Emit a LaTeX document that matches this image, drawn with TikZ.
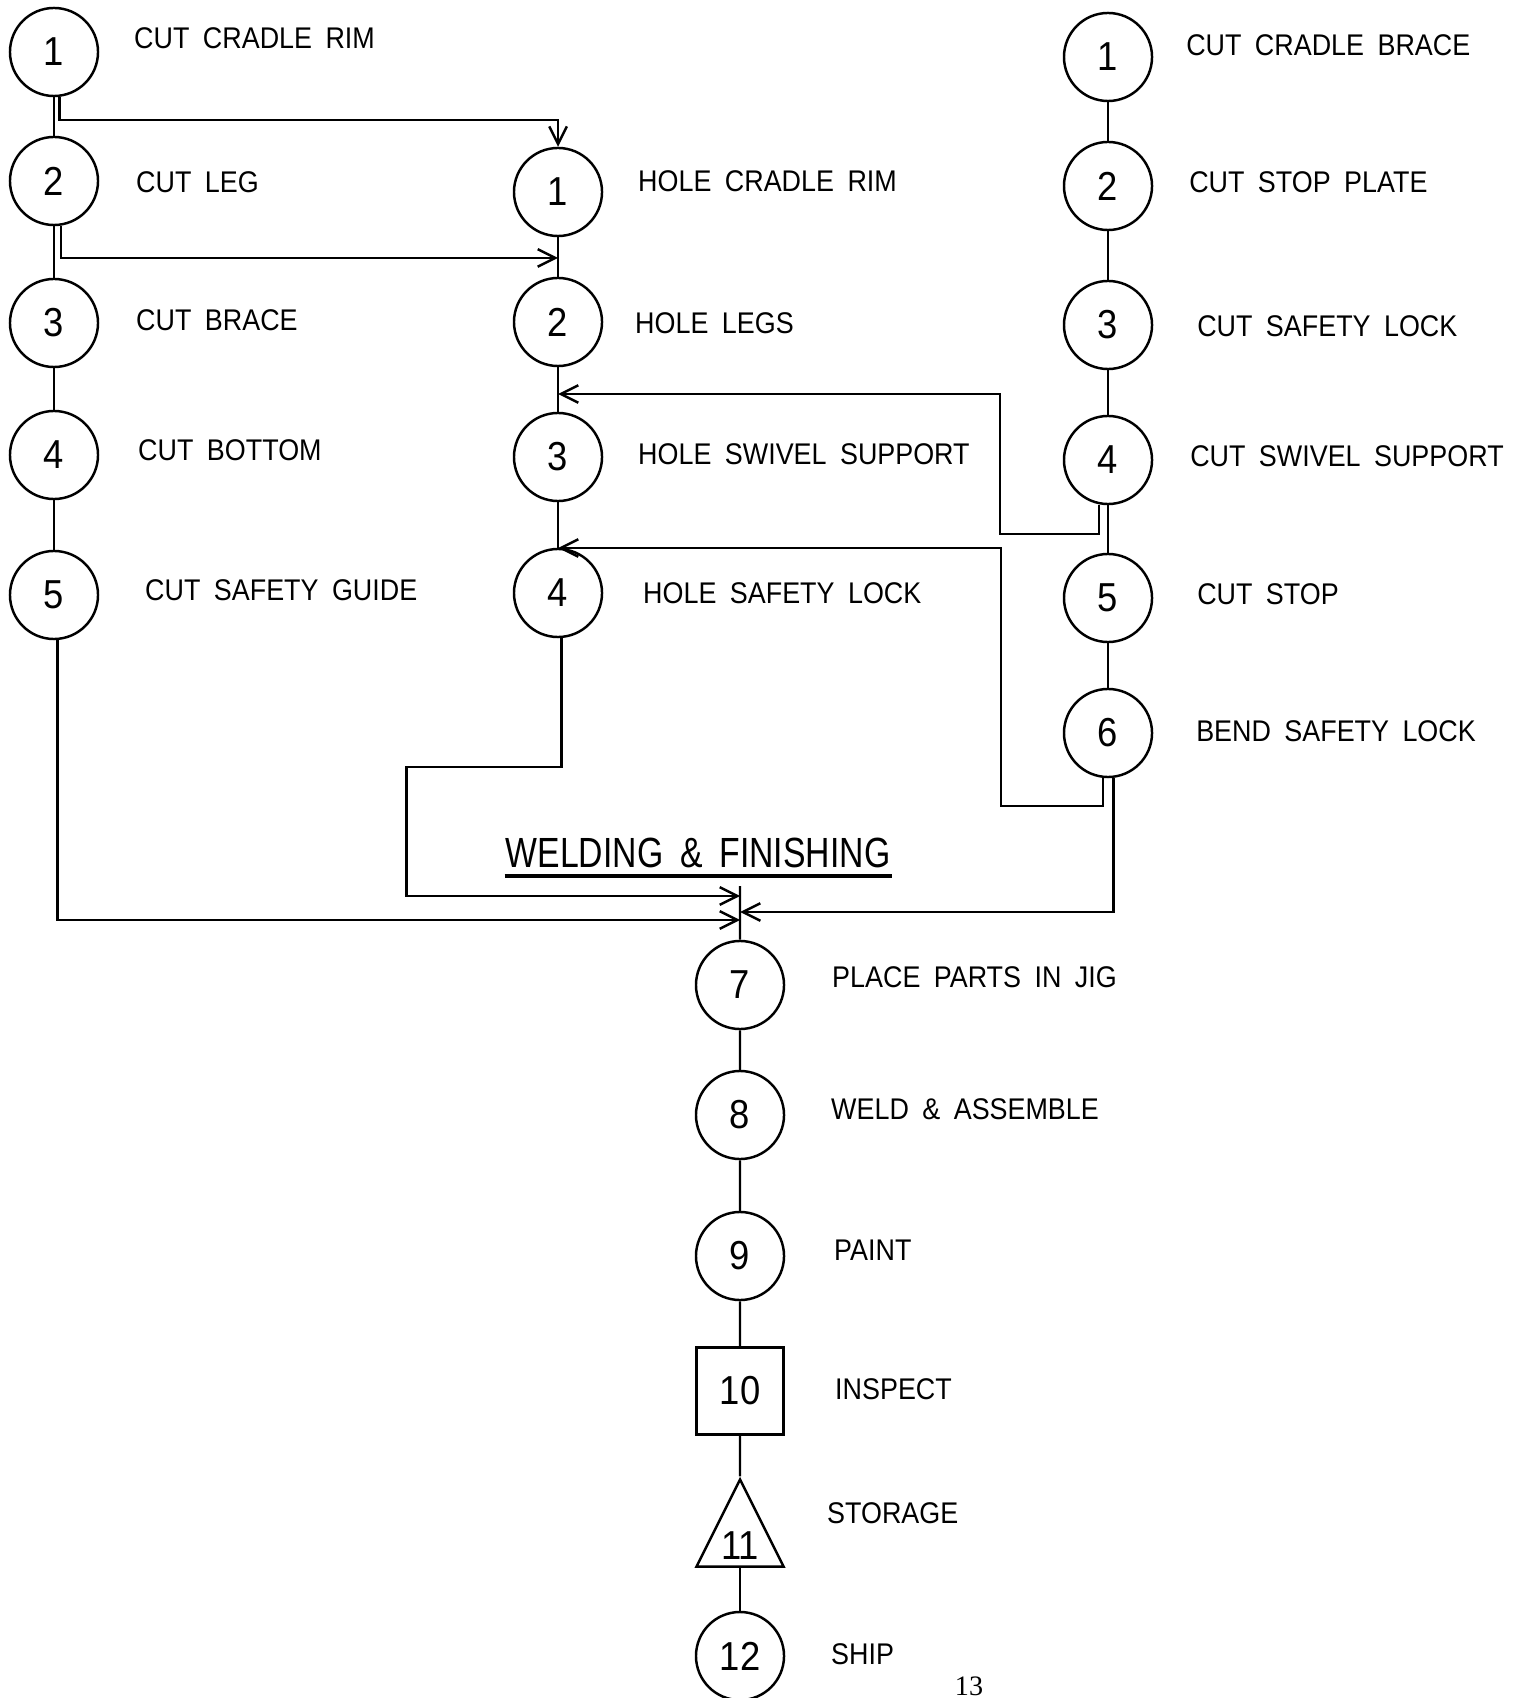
\documentclass[tikz,border=0pt]{standalone}
\usepackage{fontspec}
\setmainfont{Liberation Sans}[WordSpace=1.8, FakeStretch=0.9]
\newfontfamily\headfont{Liberation Sans}[WordSpace=1.8, FakeStretch=0.8]
\newfontfamily\pagefont{Liberation Serif}
\usetikzlibrary{shapes.geometric, arrows.meta}
\newcommand{\numfont}{\fontsize{11.5}{14}\selectfont}
\newcommand{\lblfont}{\fontsize{8.5}{10}\selectfont}
\tikzset{
    op/.style = {draw, circle, minimum size=0.88cm, inner sep=0pt, font=\numfont},
    insp/.style = {draw, rectangle, minimum size=0.87cm, inner sep=0pt, font=\numfont},
    stor/.style = {draw, isosceles triangle, shape border rotate=90, isosceles triangle stretches,
        minimum width=0.87cm, minimum height=0.87cm, inner sep=0pt, font=\numfont},
    lbl/.style = {anchor=west, inner sep=0pt, font=\lblfont},
}
\tikzset{
    flow/.style = {draw, -{Straight Barb[length=5pt, width=5pt]}},
}

\begin{document}
\begin{tikzpicture}[x=0.01cm, y=-0.01cm, line width=0.7pt]
        \useasboundingbox (0,0) rectangle (1521,1698);

        % cutting, left
        \node[op] (l1) at (54, 52) {1};
        \node[op] (l2) at (54, 181) {2};
        \node[op] (l3) at (54, 323) {3};
        \node[op] (l4) at (54, 455) {4};
        \node[op] (l5) at (54, 595) {5};
        \node[lbl] at (133, 38) {CUT CRADLE RIM};
        \node[lbl] at (135, 182) {CUT LEG};
        \node[lbl] at (135, 320) {CUT BRACE};
        \node[lbl] at (137, 450) {CUT BOTTOM};
        \node[lbl] at (144, 590) {CUT SAFETY GUIDE};

        % holes, middle
        \node[op] (m1) at (558, 192) {1};
        \node[op] (m2) at (558, 322) {2};
        \node[op] (m3) at (558, 457) {3};
        \node[op] (m4) at (558, 593) {4};
        \node[lbl] at (637, 181) {HOLE CRADLE RIM};
        \node[lbl] at (634, 323) {HOLE LEGS};
        \node[lbl] at (637, 454) {HOLE SWIVEL SUPPORT};
        \node[lbl] at (642, 593) {HOLE SAFETY LOCK};

        % cutting, right
        \node[op] (r1) at (1108, 57) {1};
        \node[op] (r2) at (1108, 186) {2};
        \node[op] (r3) at (1108, 325) {3};
        \node[op] (r4) at (1108, 460) {4};
        \node[op] (r5) at (1108, 598) {5};
        \node[op] (r6) at (1108, 733) {6};
        \node[lbl] at (1185, 45) {CUT CRADLE BRACE};
        \node[lbl] at (1188, 182) {CUT STOP PLATE};
        \node[lbl] at (1196, 326) {CUT SAFETY LOCK};
        \node[lbl] at (1189, 456) {CUT SWIVEL SUPPORT};
        \node[lbl] at (1196, 594) {CUT STOP};
        \node[lbl] at (1195, 731) {BEND SAFETY LOCK};

        % welding & finishing
        \node[inner sep=0pt, font=\headfont\fontsize{12}{14}\selectfont] (head) at (698, 853) {WELDING \& FINISHING};
        \draw[line width=1pt] ([yshift=-2pt]head.south west) -- ([yshift=-2pt]head.south east);

        \node[op] (n7) at (740, 985) {7};
        \node[op] (n8) at (740, 1115) {8};
        \node[op] (n9) at (740, 1256) {9};
        \node[insp] (n10) at (740, 1391) {10};
        \node[stor] (n11) at (740, 1546) {11};
        \node[op] (n12) at (740, 1656) {12};
        \node[lbl] at (831, 977) {PLACE PARTS IN JIG};
        \node[lbl] at (830, 1109) {WELD \& ASSEMBLE};
        \node[lbl] at (833, 1250) {PAINT};
        \node[lbl] at (834, 1389) {INSPECT};
        \node[lbl] at (826, 1513) {STORAGE};
        \node[lbl] at (830, 1654) {SHIP};
        \node[font=\pagefont\fontsize{8}{10}\selectfont] (pg) at (969, 1686) {13};

        % junctions
        \coordinate (j12) at (558, 258);
        \coordinate (j23) at (558, 394);
        \coordinate (j34) at (558, 548);
        \coordinate (jtop) at (740, 886);
        \coordinate (jm) at (740, 896);
        \coordinate (jr) at (740, 912);
        \coordinate (jl) at (740, 920);

        \draw (l1) -- (l2) -- (l3) -- (l4) -- (l5);
        \draw (m1) -- (m2) -- (m3) -- (m4);
        \draw (r1) -- (r2) -- (r3) -- (r4) -- (r5) -- (r6);
        \draw (jtop) -- (n7) -- (n8) -- (n9) -- (n10) -- (n11.north);
        \draw (n11.south) -- (n12);

        \draw[flow] ([xshift=1.5pt]l1.south) -- ++(0, 23) -| (m1.north);
        \draw[flow] ([xshift=2pt]l2.south) |- (j12);
        \draw[flow] ([xshift=-2.5pt]r4.south) -- ++(0, 29) -- ++(-99, 0) |- (j23);
        \draw[flow] ([xshift=-1.5pt]r6.south) -- ++(0, 28) -- ++(-102, 0) |- (j34);
        \draw[flow] ([xshift=1pt]l5.south) |- (jl);
        \draw[flow] ([xshift=1pt]m4.south) -- ++(0, 129) -- ++(-155, 0) |- (jm);
        \draw[flow] ([xshift=1.5pt]r6.south) |- (jr);
    \end{tikzpicture}
\end{document}
